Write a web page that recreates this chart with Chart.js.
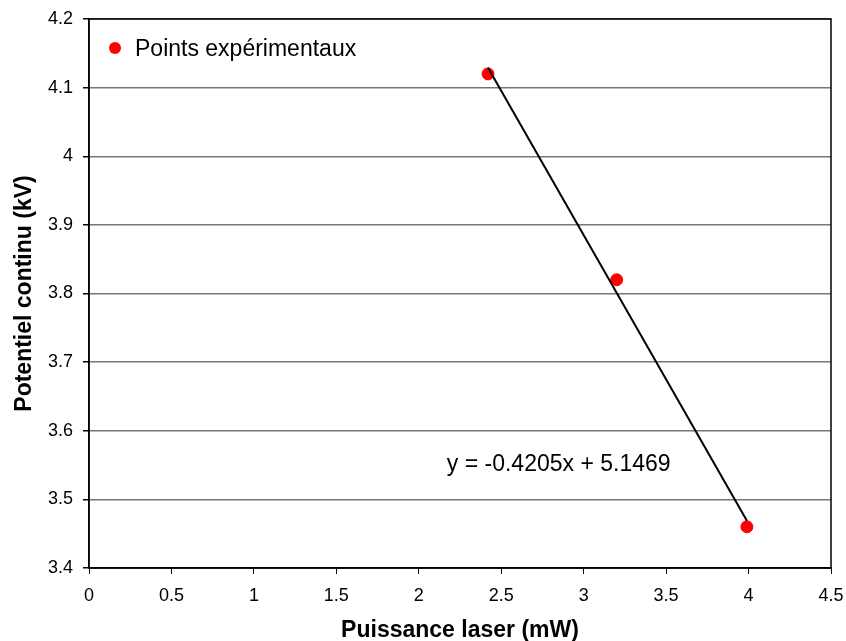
<!DOCTYPE html>
<html>
<head>
<meta charset="utf-8">
<script src="https://cdn.jsdelivr.net/npm/chart.js@4/dist/chart.umd.min.js"></script>
<style>
  html, body { margin: 0; padding: 0; background: #fff; }
  #wrap { width: 846px; height: 641px; }
</style>
</head>
<body>
<div id="wrap"><canvas id="c" width="846" height="641"></canvas></div>
<script>
// ---- data ----
const powerMW = [2.42, 3.2, 3.99];
const voltageKV = [4.12, 3.82, 3.46];
const trendX = [2.42, 3.99];
const trendY = [4.129, 3.469];
const seriesLabel = 'Points expérimentaux';
const equationText = 'y = -0.4205x + 5.1469';
const equationPos = [2.17, 3.551];
const xTitle = 'Puissance laser (mW)';
const yTitle = 'Potentiel continu (kV)';
const xRange = [0, 4.5, 0.5];
const yRange = [3.4, 4.2, 0.1];

const FONT = 'Arial, "Liberation Sans", sans-serif';

const framePlugin = {
  id: 'frame',
  afterDatasetsDraw(chart) {
    const { ctx, chartArea: a, scales } = chart;
    ctx.save();
    ctx.strokeStyle = '#000';
    ctx.lineWidth = 1.5;
    ctx.strokeRect(a.left, a.top, a.right - a.left, a.bottom - a.top);
    // equation label
    ctx.fillStyle = '#000';
    ctx.font = '23px ' + FONT;
    ctx.textAlign = 'left';
    ctx.textBaseline = 'middle';
    ctx.fillText(equationText, scales.x.getPixelForValue(equationPos[0]), scales.y.getPixelForValue(equationPos[1]));
    // legend
    const ds = chart.data.datasets[0];
    ctx.beginPath();
    ctx.arc(a.left + 26, a.top + 29, 6, 0, Math.PI * 2);
    ctx.fillStyle = ds.backgroundColor;
    ctx.fill();
    ctx.fillStyle = '#000';
    ctx.fillText(ds.label, a.left + 46, a.top + 31);
    ctx.restore();
  }
};

new Chart(document.getElementById('c'), {
  type: 'scatter',
  data: {
    datasets: [
      {
        label: seriesLabel,
        data: powerMW.map((x, i) => ({ x, y: voltageKV[i] })),
        backgroundColor: '#ff0000',
        borderColor: '#ff0000',
        pointRadius: 6,
        pointHoverRadius: 6,
        showLine: false,
        order: 1
      },
      {
        label: 'trend',
        data: trendX.map((x, i) => ({ x, y: trendY[i] })),
        borderColor: '#000',
        borderWidth: 2,
        pointRadius: 0,
        showLine: true,
        fill: false,
        order: 0
      }
    ]
  },
  options: {
    responsive: false,
    animation: false,
    events: [],
    layout: { padding: { left: 0, right: 15, top: 19, bottom: 0 } },
    plugins: { legend: { display: false }, tooltip: { enabled: false } },
    scales: {
      x: {
        type: 'linear',
        min: xRange[0], max: xRange[1],
        afterFit(s) { s.height = 73; s.paddingRight = 0; s.paddingLeft = 0; },
        ticks: {
          stepSize: xRange[2],
          color: '#000',
          font: { family: FONT, size: 18 },
          padding: 11,
          maxRotation: 0,
          callback: v => String(+v.toFixed(2))
        },
        grid: { drawOnChartArea: false, drawTicks: true, tickLength: 6, tickColor: '#000' },
        border: { color: '#000', width: 1.5 },
        title: {
          display: true, text: xTitle, color: '#000',
          font: { family: FONT, size: 23, weight: 'bold' },
          padding: { top: 0, bottom: -3 }
        }
      },
      y: {
        type: 'linear',
        min: yRange[0], max: yRange[1],
        afterFit(s) { s.width = 89; s.paddingTop = 0; s.paddingBottom = 0; },
        ticks: {
          stepSize: yRange[2],
          color: '#000',
          font: { family: FONT, size: 18 },
          padding: 10,
          callback: v => String(+v.toFixed(2))
        },
        grid: { color: '#777', lineWidth: 1.5, drawTicks: true, tickLength: 6, tickColor: '#000' },
        border: { color: '#000', width: 1.5 },
        title: {
          display: true, text: yTitle, color: '#000',
          font: { family: FONT, size: 23, weight: 'bold' },
          padding: { top: 11, bottom: 0 }
        }
      }
    }
  },
  plugins: [framePlugin]
});
</script>
</body>
</html>
